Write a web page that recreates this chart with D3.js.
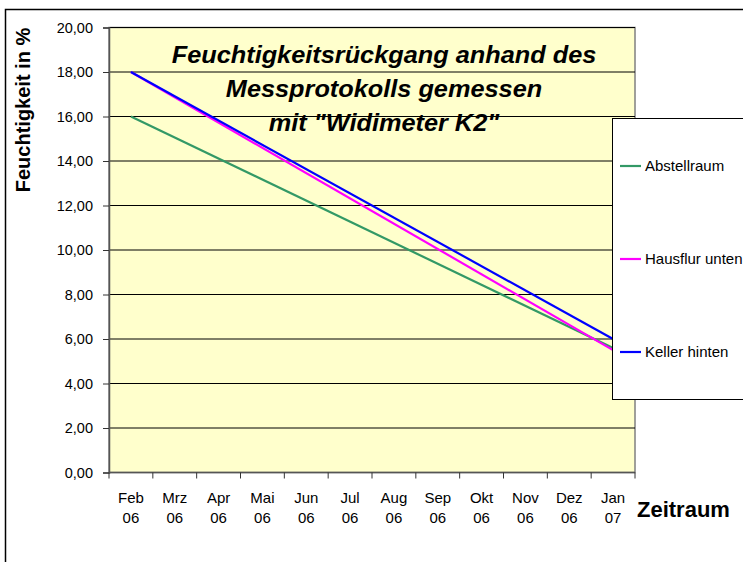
<!DOCTYPE html>
<html>
<head>
<meta charset="utf-8">
<script src="https://cdn.jsdelivr.net/npm/d3@7"></script>
<style>
body { margin: 0; background: #fff; }
svg { display: block; font-family: "Liberation Sans", Arial, sans-serif; }
</style>
</head>
<body>
<svg></svg>
<script>
let months = ['Feb', 'Mrz', 'Apr', 'Mai', 'Jun', 'Jul', 'Aug', 'Sep', 'Okt', 'Nov', 'Dez', 'Jan']
let years = ['06', '06', '06', '06', '06', '06', '06', '06', '06', '06', '06', '07']
let abstellraum = [16, null, null, null, null, null, null, null, null, null, null, 5.6]
let hausflur = [18, null, null, null, null, null, null, null, null, null, null, 5.5]
let keller = [18, null, null, null, null, null, null, null, null, null, null, 6.0]
let seriesNames = ['Abstellraum', 'Hausflur unten', 'Keller hinten']
let seriesColors = ['#339966', '#ff00ff', '#0000ff']
let yTicks = [0, 2, 4, 6, 8, 10, 12, 14, 16, 18, 20]
let titleLines = ['Feuchtigkeitsrückgang anhand des', 'Messprotokolls gemessen', 'mit "Widimeter K2"']

let width = 743
let height = 562
let plotLeft = 109
let plotRight = 635
let plotTop = 27.5
let plotBottom = 472.5

let svg = d3.select('svg')
    .attr('width', width)
    .attr('height', height)

// outer frame (only top and left edge visible)
svg.append('path')
    .attr('d', 'M5.5,' + height + 'V9.5H' + width)
    .attr('fill', 'none')
    .attr('stroke', '#000')
    .attr('stroke-width', 1.5)

let xScale = d3.scaleBand()
    .domain(d3.range(months.length))
    .range([plotLeft, plotRight])

let yScale = d3.scaleLinear()
    .domain([0, 20])
    .range([plotBottom, plotTop])

// plot area
svg.append('rect')
    .attr('x', plotLeft)
    .attr('y', plotTop)
    .attr('width', plotRight - plotLeft)
    .attr('height', plotBottom - plotTop)
    .attr('fill', '#ffffcc')
    .attr('stroke', '#808080')
    .attr('stroke-width', 1.5)

// grid lines
svg.append('g')
    .selectAll('line')
    .data(yTicks.filter(d => d > 0))
    .enter()
    .append('line')
    .attr('x1', plotLeft)
    .attr('x2', plotRight)
    .attr('y1', d => yScale(d))
    .attr('y2', d => yScale(d))
    .attr('stroke', '#000')
    .attr('stroke-width', 1)

// y axis
let yAxis = d3.axisLeft(yScale)
    .tickValues(yTicks)
    .tickSize(6)
    .tickPadding(10)
    .tickFormat(d => d3.format('.2f')(d).replace('.', ','))

let yAxisG = svg.append('g')
    .attr('transform', 'translate(' + plotLeft + ',0)')
    .call(yAxis)
yAxisG.select('.domain').attr('stroke', '#555').attr('stroke-width', 1.5)
yAxisG.selectAll('.tick line').attr('stroke', '#333')
yAxisG.selectAll('text')
    .attr('font-size', 14.5)
    .attr('font-family', '"Liberation Sans", Arial, sans-serif')
    .attr('fill', '#000')

// x axis: ticks between categories
let boundaries = d3.range(months.length + 1).map(i => plotLeft + i * xScale.bandwidth())
let xAxisG = svg.append('g')
xAxisG.append('line')
    .attr('x1', plotLeft)
    .attr('x2', plotRight)
    .attr('y1', plotBottom)
    .attr('y2', plotBottom)
    .attr('stroke', '#555')
    .attr('stroke-width', 1.5)
xAxisG.selectAll('.tk')
    .data(boundaries)
    .enter()
    .append('line')
    .attr('x1', d => d)
    .attr('x2', d => d)
    .attr('y1', plotBottom)
    .attr('y2', plotBottom + 6)
    .attr('stroke', '#333')

let xLabels = xAxisG.selectAll('.lbl')
    .data(months)
    .enter()
    .append('text')
    .attr('text-anchor', 'middle')
    .attr('font-size', 15)
    .attr('fill', '#000')
xLabels.append('tspan')
    .attr('x', (d, i) => xScale(i) + xScale.bandwidth() / 2)
    .attr('y', 503)
    .text(d => d)
xLabels.append('tspan')
    .attr('x', (d, i) => xScale(i) + xScale.bandwidth() / 2)
    .attr('y', 523)
    .text((d, i) => years[i])

// axis titles
svg.append('text')
    .attr('x', 637)
    .attr('y', 517)
    .attr('font-size', 22)
    .attr('font-weight', 'bold')
    .text('Zeitraum')

svg.append('text')
    .attr('transform', 'translate(30,110) rotate(-90)')
    .attr('text-anchor', 'middle')
    .attr('font-size', 20)
    .attr('font-weight', 'bold')
    .text('Feuchtigkeit in %')

// title (slightly wide lettering like the original)
let titles = svg.append('g')
    .selectAll('text')
    .data(titleLines)
    .enter()
    .append('text')
    .attr('x', 384)
    .attr('y', (d, i) => 63 + i * 34)
    .attr('text-anchor', 'middle')
    .attr('font-size', 23)
    .attr('font-weight', 'bold')
    .attr('font-style', 'italic')
    .text(d => d)
titles.each(function () {
    let w = this.getComputedTextLength()
    d3.select(this)
        .attr('textLength', w * 1.1)
        .attr('lengthAdjust', 'spacingAndGlyphs')
})

// series lines
let allSeries = [abstellraum, hausflur, keller]
let line = d3.line()
    .x(d => xScale(d.i) + xScale.bandwidth() / 2)
    .y(d => yScale(d.v))

svg.append('g')
    .selectAll('path')
    .data(allSeries)
    .enter()
    .append('path')
    .attr('d', s => line(s.map((v, i) => ({ i: i, v: v })).filter(p => p.v !== null)))
    .attr('fill', 'none')
    .attr('stroke', (s, i) => seriesColors[i])
    .attr('stroke-width', 2.2)

// legend
let legend = svg.append('g')
legend.append('rect')
    .attr('x', 612.5)
    .attr('y', 118.5)
    .attr('width', 160)
    .attr('height', 281)
    .attr('fill', '#fff')
    .attr('stroke', '#000')
    .attr('stroke-width', 1)

let legendItems = legend.selectAll('.item')
    .data(seriesNames)
    .enter()
    .append('g')
    .attr('transform', (d, i) => 'translate(620,' + (166 + i * 93) + ')')
legendItems.append('line')
    .attr('x1', 0)
    .attr('x2', 21)
    .attr('stroke', (d, i) => seriesColors[i])
    .attr('stroke-width', 2.2)
legendItems.append('text')
    .attr('x', 25)
    .attr('y', 5)
    .attr('font-size', 15)
    .text(d => d)
</script>
</body>
</html>
